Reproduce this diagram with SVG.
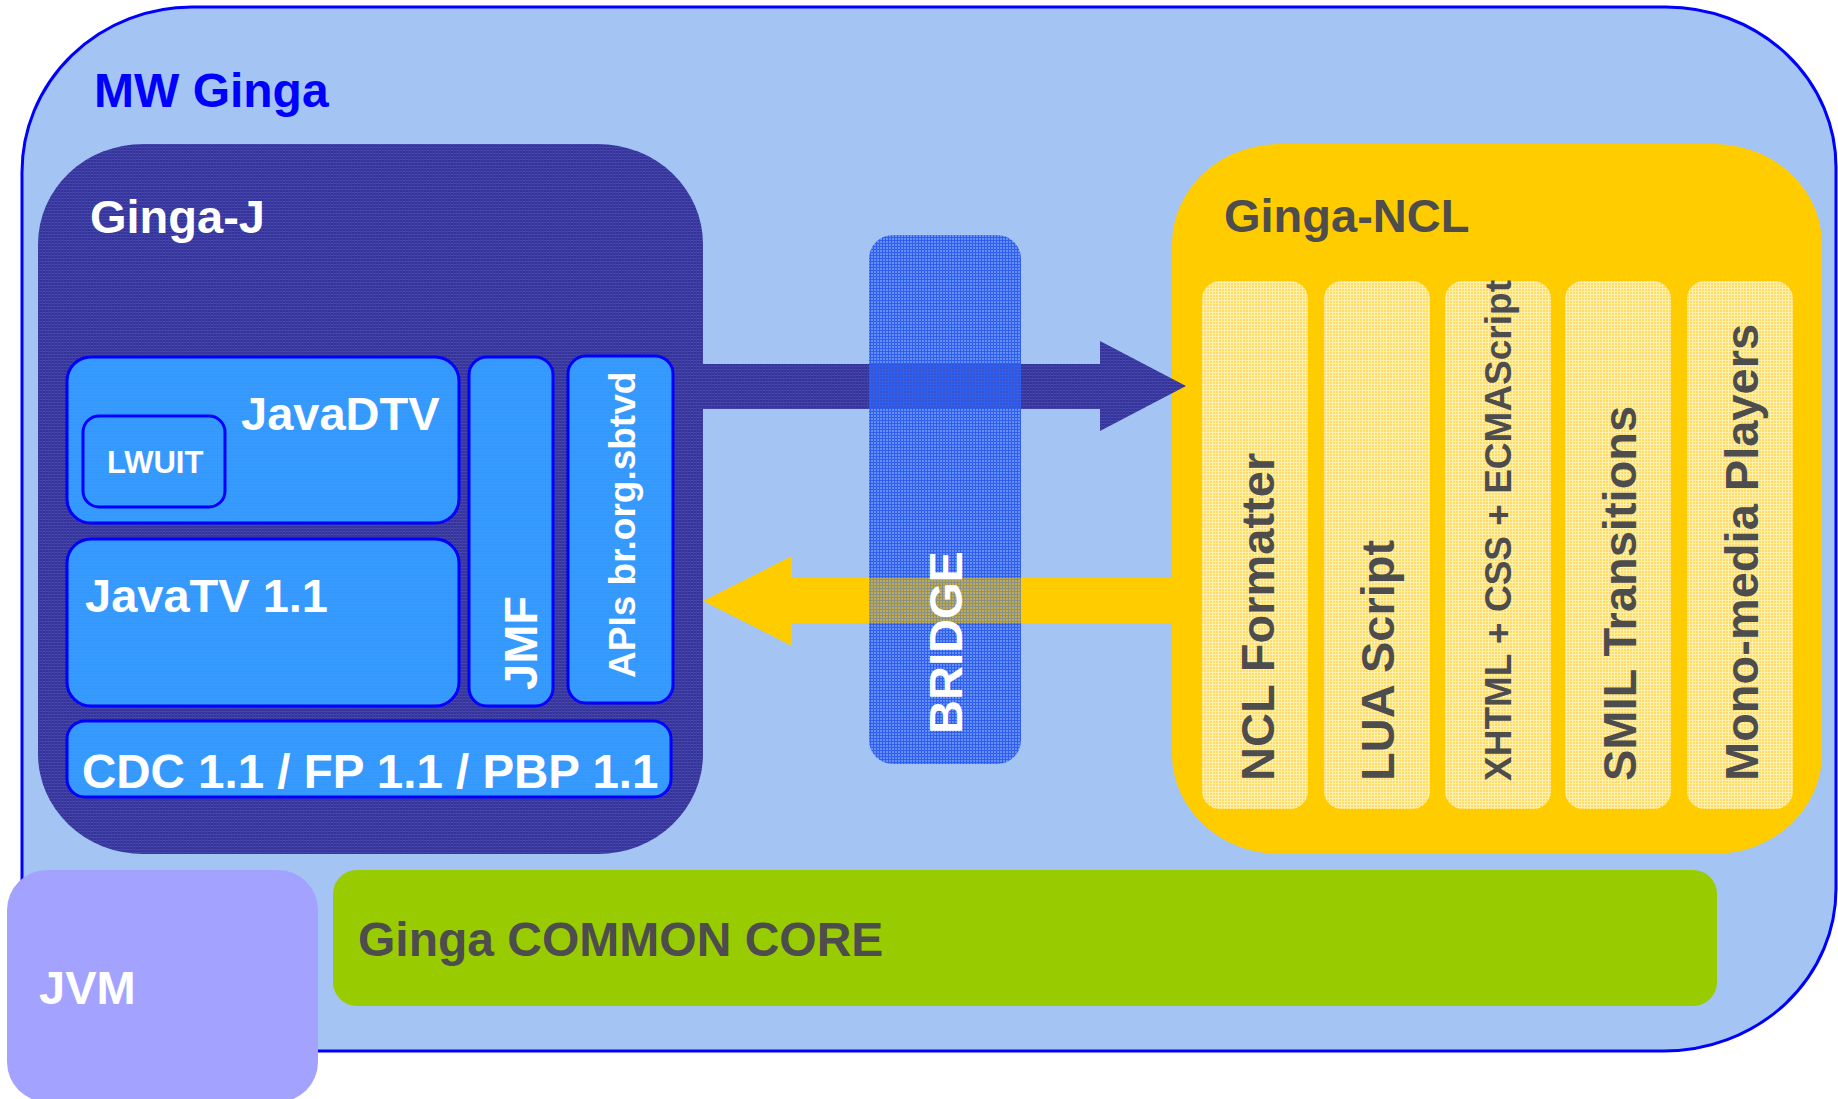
<svg xmlns="http://www.w3.org/2000/svg" width="1838" height="1099" viewBox="0 0 1838 1099">
<defs>
<pattern id="pGJ" width="3" height="3" patternUnits="userSpaceOnUse">
<rect width="3" height="3" fill="#333399"/>
<rect width="3" height="1" fill="#4848ad"/>
<rect width="1" height="3" fill="#3d3da3"/>
</pattern>
<pattern id="pBlue" width="3" height="3" patternUnits="userSpaceOnUse">
<rect width="3" height="3" fill="#3399ff"/>
<rect width="3" height="1" fill="#3a9bfb"/>
</pattern>
<pattern id="pBridge" width="3" height="3" patternUnits="userSpaceOnUse">
<rect width="3" height="3" fill="#3b6cf5" fill-opacity="0.6"/>
<rect width="3" height="1" fill="#2f5ff0"/>
<rect y="1" width="1" height="2" fill="#2f5ff0"/>
</pattern>
<pattern id="pCol" width="3" height="3" patternUnits="userSpaceOnUse">
<rect width="3" height="3" fill="#ffdc66"/>
<rect width="3" height="1" fill="#fff0b0"/>
<rect y="1" width="1" height="2" fill="#fff0b0"/>
</pattern>
</defs>
<style>
text{font-family:"Liberation Sans",Arial,sans-serif;font-weight:bold}
.w{fill:#ffffff}
.g{fill:#4d4d4d}
.box{fill:url(#pBlue);stroke:#0000ff;stroke-width:3}
.col{fill:url(#pCol)}
.t47{font-size:47px}
.t37{font-size:37px}
</style>

<g id="mw-ginga">
<path d="M192,7 H1666 A170,160 0 0 1 1836,167 V889 A172,162 0 0 1 1664,1051 H42 A20,20 0 0 1 22,1031 V172 A170,165 0 0 1 192,7 Z" fill="#a4c4f4" stroke="#0000ff" stroke-width="3"/>
<text x="94" y="107" font-size="48" fill="#0000ff">MW Ginga</text>
</g>

<g id="ginga-j">
<rect x="38" y="144" width="665" height="710" rx="105" ry="100" fill="url(#pGJ)"/>
<text x="90" y="233" class="w t47">Ginga-J</text>
</g>

<g id="javadtv">
<rect x="67" y="357" width="392" height="166" rx="24" class="box"/>
<text x="241" y="430" class="w t47">JavaDTV</text>
</g>
<g id="lwuit">
<rect x="83" y="416" width="142" height="91" rx="16" class="box"/>
<text x="107" y="473" class="w" font-size="31">LWUIT</text>
</g>
<g id="javatv">
<rect x="67" y="539" width="392" height="167" rx="24" class="box"/>
<text x="85" y="612" class="w t47">JavaTV 1.1</text>
</g>
<g id="jmf">
<rect x="469" y="357" width="84" height="349" rx="18" class="box"/>
<text transform="translate(537,690) rotate(-90)" class="w t47">JMF</text>
</g>
<g id="apis">
<rect x="568" y="356" width="105" height="347" rx="18" class="box"/>
<text transform="translate(635,678) rotate(-90)" class="w t37">APIs br.org.sbtvd</text>
</g>
<g id="cdc">
<rect x="67" y="721" width="604" height="76" rx="18" class="box"/>
<text x="82" y="788" class="w" font-size="47.5">CDC 1.1 / FP 1.1 / PBP 1.1</text>
</g>

<g id="ginga-ncl">
<rect x="1172" y="144" width="650" height="710" rx="108" ry="100" fill="#ffcc00"/>
<text x="1224" y="232" class="g t47">Ginga-NCL</text>
</g>
<g id="ncl-formatter">
<rect x="1202" y="281" width="106" height="528" rx="18" class="col"/>
<text transform="translate(1274,781) rotate(-90)" class="g t47">NCL Formatter</text>
</g>
<g id="lua-script">
<rect x="1324" y="281" width="106" height="528" rx="18" class="col"/>
<text transform="translate(1394,781) rotate(-90)" class="g t47">LUA Script</text>
</g>
<g id="xhtml">
<rect x="1445" y="281" width="106" height="528" rx="18" class="col"/>
<text transform="translate(1511,781) rotate(-90)" class="g t37">XHTML + CSS + ECMAScript</text>
</g>
<g id="smil">
<rect x="1565" y="281" width="106" height="528" rx="18" class="col"/>
<text transform="translate(1636,781) rotate(-90)" class="g t47">SMIL Transitions</text>
</g>
<g id="mono-media">
<rect x="1687" y="281" width="106" height="528" rx="18" class="col"/>
<text transform="translate(1758,781) rotate(-90)" class="g t47">Mono-media Players</text>
</g>

<g id="connectors">
<polygon points="700,364 1100,364 1100,341 1186,386 1100,431 1100,409 700,409" fill="url(#pGJ)"/>
<polygon points="1174,578 792,578 792,556 703,601 792,646 792,623 1174,623" fill="#ffcc00"/>
</g>

<g id="bridge">
<rect x="869" y="235" width="152" height="529" rx="24" fill="url(#pBridge)"/>
<rect x="869" y="578" width="152" height="45" fill="#ffcc00" fill-opacity="0.45"/>
<text transform="translate(962,734) rotate(-90)" class="w t47">BRIDGE</text>
</g>

<g id="common-core">
<rect x="333" y="870" width="1384" height="136" rx="24" fill="#99cc00"/>
<text x="358" y="956" class="g" font-size="48">Ginga COMMON CORE</text>
</g>

<g id="jvm">
<rect x="7" y="870" width="311" height="232" rx="40" fill="#a3a3ff"/>
<text x="39" y="1004" class="w t47">JVM</text>
</g>
</svg>
